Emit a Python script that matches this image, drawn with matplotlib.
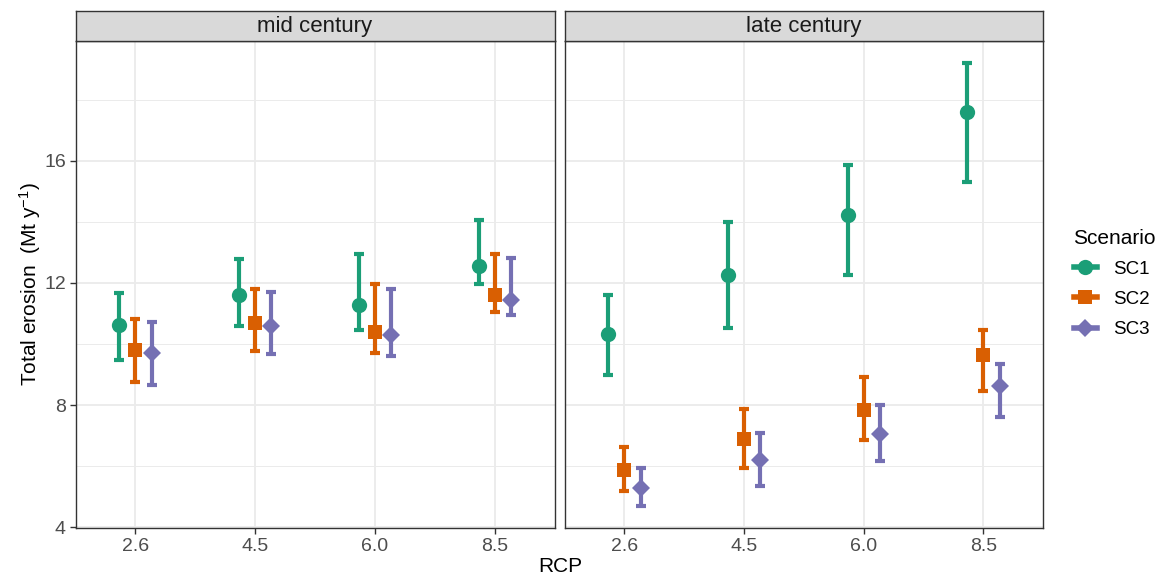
import numpy as np
import matplotlib
matplotlib.use('Agg')
import matplotlib.pyplot as plt
from matplotlib.lines import Line2D

plt.rcParams['font.family'] = ['Liberation Sans', 'DejaVu Sans']
plt.rcParams['mathtext.fontset'] = 'custom'
plt.rcParams['mathtext.rm'] = 'Liberation Sans'

# data
rcp = ['2.6', '4.5', '6.0', '8.5']
periods = ['mid century', 'late century']
scenarios = ['SC1', 'SC2', 'SC3']

sc1_mid = [10.63, 11.59, 11.27, 12.55]
sc1_mid_lo = [9.47, 10.58, 10.47, 11.98]
sc1_mid_hi = [11.67, 12.80, 12.96, 14.05]
sc2_mid = [9.79, 10.69, 10.39, 11.59]
sc2_mid_lo = [8.76, 9.77, 9.69, 11.05]
sc2_mid_hi = [10.83, 11.81, 11.95, 12.96]
sc3_mid = [9.71, 10.58, 10.28, 11.45]
sc3_mid_lo = [8.65, 9.66, 9.60, 10.94]
sc3_mid_hi = [10.72, 11.70, 11.81, 12.83]

sc1_late = [10.32, 12.25, 14.24, 17.59]
sc1_late_lo = [9.00, 10.52, 12.25, 15.30]
sc1_late_hi = [11.62, 13.99, 15.88, 19.21]
sc2_late = [5.87, 6.88, 7.83, 9.63]
sc2_late_lo = [5.19, 5.92, 6.87, 8.46]
sc2_late_hi = [6.63, 7.86, 8.92, 10.47]
sc3_late = [5.29, 6.19, 7.04, 8.62]
sc3_late_lo = [4.70, 5.35, 6.17, 7.61]
sc3_late_hi = [5.95, 7.07, 7.99, 9.36]

data = {
    'mid century': [(sc1_mid, sc1_mid_lo, sc1_mid_hi),
                    (sc2_mid, sc2_mid_lo, sc2_mid_hi),
                    (sc3_mid, sc3_mid_lo, sc3_mid_hi)],
    'late century': [(sc1_late, sc1_late_lo, sc1_late_hi),
                     (sc2_late, sc2_late_lo, sc2_late_hi),
                     (sc3_late, sc3_late_lo, sc3_late_hi)],
}

colors = ['#1B9E77', '#D95F02', '#7570B3']
markers = ['o', 's', 'D']
msizes = [11, 9.5, 9.5]
offsets = [-0.135, 0.0, 0.135]

W, H = 1161, 575
fig = plt.figure(figsize=(W / 100, H / 100), dpi=100)


def px_axes(left, top, right, bottom):
    return fig.add_axes([left / W, 1 - bottom / H, (right - left) / W, (bottom - top) / H])


panels = [(75.5, 554.6), (564.6, 1043.3)]
for i, period in enumerate(periods):
    l, r = panels[i]
    ax = px_axes(l, 41.3, r, 528)
    x = np.arange(1, len(rcp) + 1)
    for j in range(3):
        m, lo, hi = [np.array(a) for a in data[period][j]]
        ax.errorbar(x + offsets[j], m, yerr=[m - lo, hi - m], fmt='none',
                    ecolor=colors[j], elinewidth=3.0, capsize=3.8, capthick=3.0,
                    zorder=3)
        ax.plot(x + offsets[j], m, ls='none', marker=markers[j], color=colors[j],
                ms=msizes[j], mew=0, zorder=4)
    ax.set_xlim(0.5, 4.5)
    ax.set_ylim(3.97, 19.92)
    ax.set_xticks(x)
    ax.set_xticklabels(rcp)
    ax.set_yticks([4, 8, 12, 16])
    ax.set_yticks([6, 10, 14, 18], minor=True)
    ax.grid(True, which='major', color='#EBEBEB', lw=1.3, zorder=0)
    ax.grid(True, which='minor', axis='y', color='#EBEBEB', lw=0.7, zorder=0)
    ax.set_axisbelow(True)
    for s in ax.spines.values():
        s.set_color('#333333')
        s.set_linewidth(1.0)
    ax.tick_params(axis='both', which='major', length=4, width=1.0, color='#333333',
                   labelsize=14, labelcolor='#4D4D4D', pad=3)
    ax.tick_params(axis='both', which='minor', length=0)
    if i > 0:
        ax.tick_params(axis='y', labelleft=False, length=0)

    # facet strip
    sax = px_axes(l, 11, r, 41.3)
    sax.set_xticks([])
    sax.set_yticks([])
    sax.set_facecolor('#D9D9D9')
    for s in sax.spines.values():
        s.set_color('#333333')
        s.set_linewidth(1.0)
    sax.text(0.5, 0.5, period, ha='center', va='center', fontsize=16,
             color='#1A1A1A', transform=sax.transAxes)

fig.text(560 / W, 1 - 566 / H, 'RCP', ha='center', va='center', fontsize=15)
fig.text(30 / W, 1 - 284 / H, 'Total erosion  (Mt y$\\mathregular{^{-1}}$)',
         ha='center', va='center', rotation=90, fontsize=15)

handles = [Line2D([], [], color=colors[j], marker=markers[j], ms=msizes[j], mew=0, lw=4.0)
           for j in range(3)]
leg = fig.legend(handles, scenarios, title='Scenario', loc='upper left',
                 bbox_to_anchor=(1066 / W, 1 - 221 / H), frameon=False,
                 fontsize=13.5, title_fontsize=15, handlelength=1.25,
                 handletextpad=0.85, labelspacing=0.7, borderaxespad=0)
leg._legend_box.align = 'left'

fig.savefig('out.png', dpi=100)
